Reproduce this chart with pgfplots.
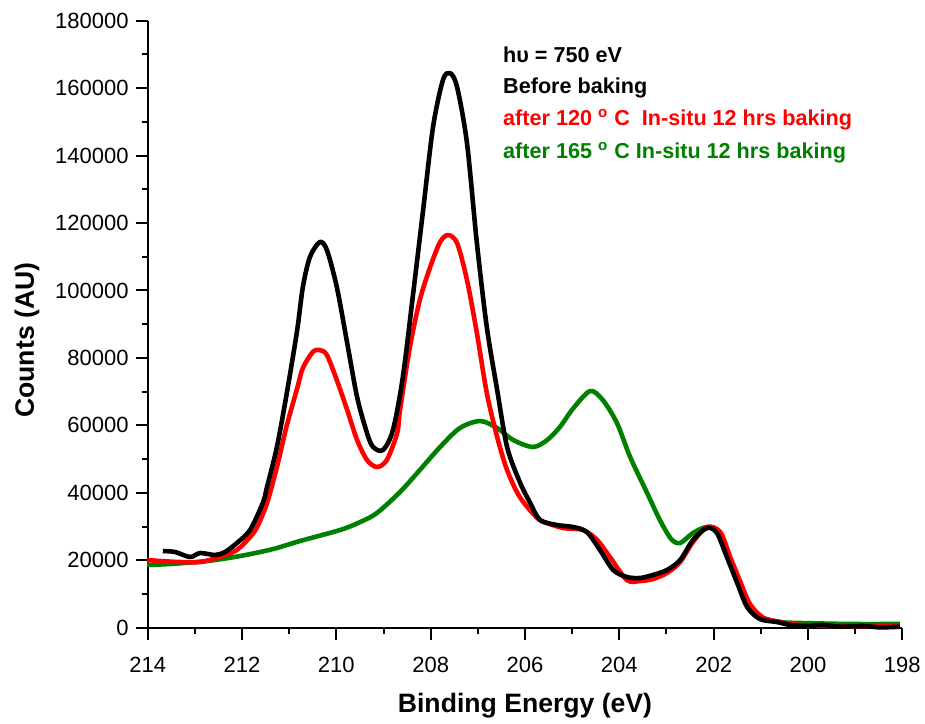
\documentclass[border=0pt]{standalone}
\usepackage{fontspec}
\setmainfont{Liberation Sans}
\usepackage{pgfplots}
\pgfplotsset{compat=1.18}
\definecolor{ogreen}{RGB}{0,128,0}

\begin{document}
\begin{tikzpicture}
\begin{axis}[
  scale only axis,
  width=377.3pt, height=303.5pt,
  x dir=reverse,
  xmin=198, xmax=214, ymin=0, ymax=180000,
  xtick={198,200,...,214},
  ytick={0,20000,...,180000},
  minor x tick num=1, minor y tick num=1,
  axis x line*=bottom, axis y line*=left,
  axis line style={line width=1pt},
  tick style={line width=1pt, black},
  tick align=outside,
  major tick length=6pt, minor tick length=3pt,
  scaled y ticks=false,
  yticklabel style={/pgf/number format/fixed, /pgf/number format/1000 sep={}},
  xticklabel style={yshift=-5pt},
  /pgf/number format/assume math mode=true,
  ticklabel style={font=\fontsize{11}{13}\selectfont},
  xlabel={Binding Energy (eV)},
  ylabel={Counts (AU)},
  label style={font=\fontsize{13.3}{15}\selectfont\bfseries},
  xlabel style={yshift=-3.5pt},
  ylabel style={yshift=1pt, xshift=-8pt},
  clip=false,
  every axis plot/.append style={line width=2.3pt, line join=round, smooth, tension=0.5},
]

% after 165 C
\addplot[ogreen] coordinates {
(214.01,18590) (213.53,18890) (212.74,19780) (212.04,21260) (211.34,23330)
(210.77,25710) (209.92,28970) (209.50,31300) (209.14,34010) (208.65,40240)
(208.23,46760) (207.80,53580) (207.38,59210) (206.95,61290) (206.59,59210)
(206.25,55650) (205.83,53580) (205.53,55650) (205.26,59510) (204.98,65000)
(204.62,70180) (204.35,67510) (204.05,60690) (203.77,50610) (203.41,39940)
(203.14,31930) (202.90,26300) (202.71,25110) (202.44,28080) (202.14,29860)
(201.86,28080) (201.59,18000) (201.29,7320) (201.02,3170) (200.59,1690)
(200.17,1400) (199.10,1100) (198.05,1100)
};

% after 120 C
\addplot[red] coordinates {
(214.01,20070) (213.74,19780) (213.32,19480) (212.89,19480) (212.47,20960)
(212.11,23040) (211.83,26890) (211.68,29860) (211.47,36970) (211.26,47650)
(211.05,60000) (210.83,71000) (210.71,77000) (210.50,81740) (210.35,82340)
(210.20,80860) (209.99,73440) (209.77,64550) (209.56,55650) (209.35,49720)
(209.14,47650) (208.93,49720) (208.71,57730) (208.65,64550) (208.44,83230)
(208.23,97160) (208.01,106950) (207.80,114360) (207.63,116440) (207.44,114060)
(207.23,103090) (207.02,87380) (206.81,69590) (206.59,56540) (206.38,46760)
(206.11,38750) (205.74,32530) (205.53,31040) (205.19,29560) (204.77,28970)
(204.47,26000) (204.20,20960) (203.84,14140) (203.56,13850) (203.29,14440)
(202.99,16220) (202.71,19480) (202.44,25410) (202.14,29860) (201.86,28380)
(201.65,21000) (201.44,13800) (201.23,7000) (200.95,3000) (200.59,1690)
(200.17,800) (199.53,500) (198.89,400) (198.05,400)
};

% before baking
\addplot[black] coordinates {
(213.68,22740) (213.42,22450) (213.10,20960) (212.89,22150) (212.57,21560)
(212.36,22450) (212.11,25110) (211.83,28970) (211.56,36970) (211.47,41720)
(211.26,53580) (211.05,69590) (210.83,88270) (210.71,101020) (210.56,109910)
(210.35,114360) (210.20,111990) (209.99,101020) (209.77,84410) (209.56,68400)
(209.35,57730) (209.22,53580) (209.01,52690) (208.80,58620) (208.59,74330)
(208.37,99240) (208.16,123850) (207.95,148460) (207.74,162390) (207.59,164470)
(207.44,160320) (207.23,143710) (207.02,114060) (206.81,89160) (206.59,70480)
(206.38,53580) (206.11,43200) (205.89,37000) (205.68,31930) (205.32,30450)
(204.98,29860) (204.69,28380) (204.41,23040) (204.13,17110) (203.84,15030)
(203.56,14740) (203.29,15630) (202.99,17110) (202.71,20070) (202.44,26000)
(202.14,29560) (201.93,28080) (201.72,20960) (201.50,13250) (201.29,6140)
(201.02,2580) (200.66,1690) (200.38,800) (200.02,500) (199.68,800)
(199.32,300) (198.83,500) (198.47,100) (198.05,300)
};

\begin{scope}[every node/.style={anchor=base west, font=\fontsize{10.8}{13}\selectfont\bfseries, inner sep=0pt}]
\node at (axis cs:206.47,167730) {hυ = 750 eV};
\node at (axis cs:206.47,158530) {Before baking};
\node[text=red] at (axis cs:206.47,149040) {after 120 \textsuperscript{o} C\ \ In-situ 12 hrs baking};
\node[text=ogreen] at (axis cs:206.47,139250) {after 165 \textsuperscript{o} C In-situ 12 hrs baking};
\end{scope}
\coordinate (ll) at (axis cs:214,0);
\coordinate (ur) at (axis cs:198,180000);
\end{axis}
\pgfresetboundingbox
\path[use as bounding box] ([shift={(-73.85pt,-47.65pt)}]ll) rectangle ([shift={(11.35pt,10.35pt)}]ur);
\end{tikzpicture}
\end{document}
